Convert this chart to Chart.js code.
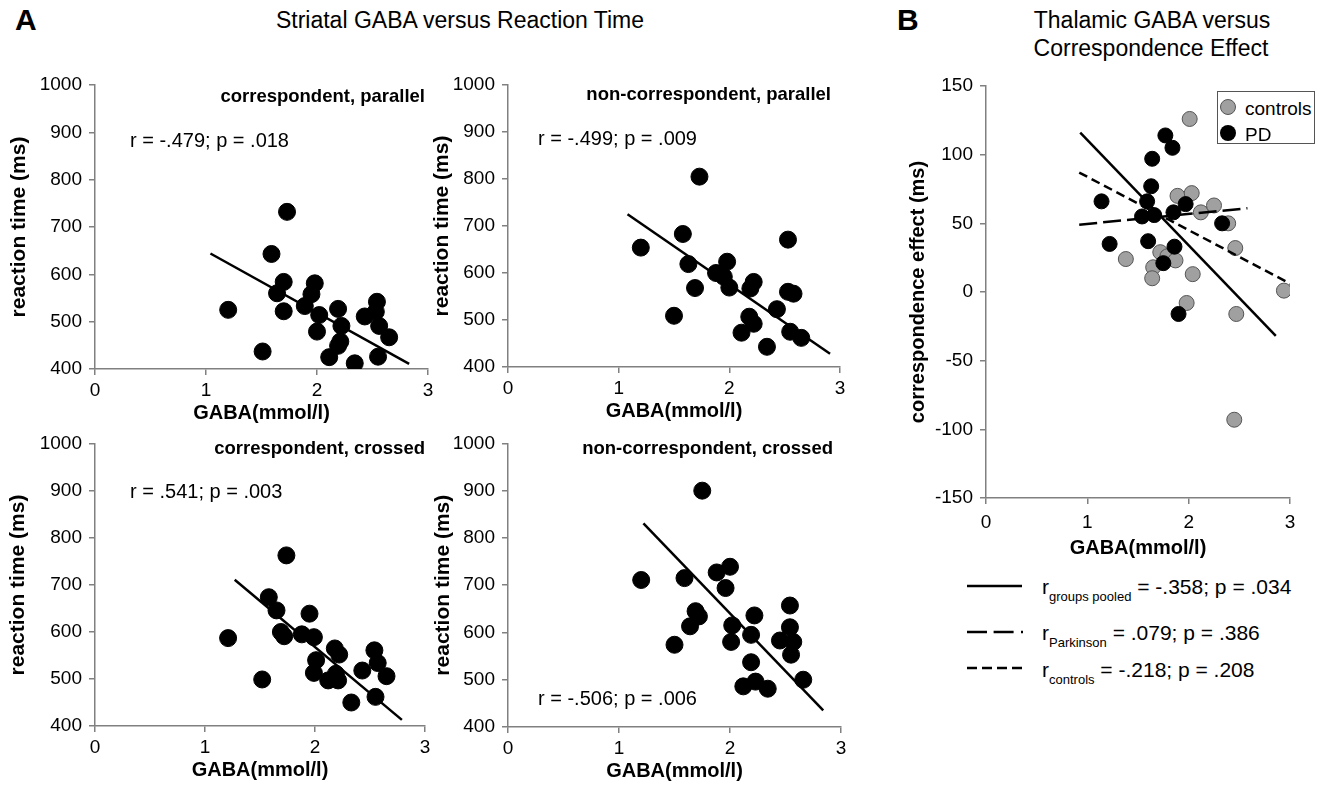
<!DOCTYPE html>
<html>
<head>
<meta charset="utf-8">
<script src="https://cdn.jsdelivr.net/npm/chart.js@4.4.1/dist/chart.umd.min.js"></script>
<style>
  body { margin: 0; background: #fff; font-family: 'Liberation Sans', Arial, sans-serif; color: #000; }
  #fig { position: relative; width: 1331px; height: 787px; overflow: hidden; }
  canvas { position: absolute; }
  .t { position: absolute; white-space: nowrap; line-height: 1; transform: translateY(-50%); }
  .c { transform: translate(-50%, -50%); }
  .sub { font-weight: bold; font-size: 18.5px; }
  .rv { font-size: 20px; }
</style>
</head>
<body>
<div id="fig">
  <div class="t" style="left:15px;top:20px;font-size:30px;font-weight:bold">A</div>
  <div class="t c" style="left:460px;top:20px;font-size:23px">Striatal GABA versus Reaction Time</div>
  <div class="t" style="left:897px;top:20px;font-size:30px;font-weight:bold">B</div>
  <div class="t c" style="left:1152px;top:20px;font-size:23px">Thalamic GABA versus</div>
  <div class="t c" style="left:1151px;top:48px;font-size:23px">Correspondence Effect</div>

  <canvas id="p1"></canvas>
  <canvas id="p2"></canvas>
  <canvas id="p3"></canvas>
  <canvas id="p4"></canvas>
  <canvas id="p5"></canvas>

  <div class="t sub" style="right:906px;top:96px">correspondent, parallel</div>
  <div class="t rv" style="left:130px;top:140px">r = -.479; p = .018</div>
  <div class="t sub" style="right:500px;top:94px">non-correspondent, parallel</div>
  <div class="t rv" style="left:538px;top:138px">r = -.499; p = .009</div>
  <div class="t sub" style="right:906px;top:448px">correspondent, crossed</div>
  <div class="t rv" style="left:130px;top:491px">r = .541; p = .003</div>
  <div class="t sub" style="right:498px;top:448px">non-correspondent, crossed</div>
  <div class="t rv" style="left:538px;top:698px">r = -.506; p = .006</div>

  <!-- legend inside panel B -->
  <div style="position:absolute;left:1217px;top:91px;width:98px;height:53px;border:1px solid #555;box-sizing:border-box;background:#fff"></div>
  <div style="position:absolute;left:1220px;top:99px;width:16px;height:16px;border-radius:50%;background:#a0a0a0;border:1px solid #555;box-sizing:border-box"></div>
  <div class="t" style="left:1245px;top:108px;font-size:19px">controls</div>
  <div style="position:absolute;left:1220px;top:125px;width:16px;height:16px;border-radius:50%;background:#000"></div>
  <div class="t" style="left:1245px;top:134px;font-size:19px">PD</div>

  <!-- fit line legend below panel B -->
  <svg style="position:absolute;left:960px;top:570px" width="80" height="110">
    <line x1="7" y1="16" x2="62" y2="16" stroke="#000" stroke-width="2.3"/>
    <line x1="7" y1="62" x2="63" y2="62" stroke="#000" stroke-width="2.3" stroke-dasharray="20 6.6 20 7.4 2 100"/>
    <line x1="7" y1="98" x2="62" y2="98" stroke="#000" stroke-width="2.3" stroke-dasharray="10 5"/>
  </svg>
  <div class="t" style="left:1042px;top:586px;font-size:21px">r<span style="font-size:13px;position:relative;top:7px">groups pooled</span> = -.358; p = .034</div>
  <div class="t" style="left:1042px;top:632px;font-size:21px">r<span style="font-size:13px;position:relative;top:7px">Parkinson</span> = .079; p = .386</div>
  <div class="t" style="left:1042px;top:669px;font-size:21px">r<span style="font-size:13px;position:relative;top:7px">controls</span> = -.218; p = .208</div>
</div>

<script>
// --- panel A data: GABA (mmol/l) vs reaction time (ms) ---
const gabaCorrPar = [1.20, 1.51, 1.59, 1.73, 1.70, 1.64, 1.70, 1.89, 1.95, 1.98, 2.02, 2.00, 2.11, 2.19, 2.22, 2.21, 2.19, 2.34, 2.43, 2.54, 2.53, 2.56, 2.55, 2.65];
const rtCorrPar   = [525, 437, 643, 732, 584, 560, 522, 533, 558, 581, 514, 479, 425, 527, 491, 458, 449, 412, 511, 542, 521, 491, 426, 467];
const fitCorrParX = [1.04, 2.83];
const fitCorrParY = [644, 411];

const gabaNonPar = [1.20, 1.50, 1.58, 1.73, 1.63, 1.69, 1.88, 1.95, 1.98, 2.00, 2.19, 2.22, 2.18, 2.22, 2.11, 2.34, 2.43, 2.53, 2.53, 2.58, 2.55, 2.65];
const rtNonPar   = [654, 509, 683, 805, 619, 568, 600, 592, 624, 569, 567, 581, 507, 492, 473, 443, 523, 671, 560, 556, 475, 462];
const fitNonParX = [1.08, 2.91];
const fitNonParY = [725, 428];

const gabaCorrCross = [1.21, 1.52, 1.58, 1.65, 1.69, 1.72, 1.74, 1.88, 1.95, 1.99, 2.01, 1.99, 2.12, 2.18, 2.22, 2.19, 2.21, 2.33, 2.43, 2.54, 2.57, 2.55, 2.65];
const rtCorrCross   = [587, 499, 674, 646, 600, 591, 763, 595, 639, 589, 540, 513, 497, 565, 552, 511, 497, 450, 518, 561, 534, 462, 506];
const fitCorrCrossX = [1.27, 2.79];
const fitCorrCrossY = [711, 413];

const gabaNonCross = [1.20, 1.50, 1.59, 1.64, 1.69, 1.72, 1.75, 1.88, 2.00, 1.96, 2.02, 2.01, 2.19, 2.22, 2.19, 2.12, 2.23, 2.34, 2.45, 2.54, 2.54, 2.57, 2.55, 2.66];
const rtNonCross   = [711, 574, 715, 613, 645, 634, 900, 727, 739, 694, 615, 580, 595, 636, 537, 486, 496, 481, 583, 657, 611, 580, 553, 500];
const fitNonCrossX = [1.22, 2.84];
const fitNonCrossY = [831, 435];

// --- panel B data: thalamic GABA vs correspondence effect (ms) ---
const gabaControls = [2.01, 1.89, 2.03, 2.12, 2.25, 2.39, 2.46, 1.38, 1.72, 1.79, 1.87, 1.65, 1.64, 2.04, 1.98, 2.47, 2.94, 2.45];
const ceControls   = [126, 70, 72, 58, 63, 50, 32, 24, 29, 26, 23, 18, 10, 13, -8, -16, 1, -93];
const gabaPD = [1.77, 1.84, 1.64, 1.63, 1.14, 1.59, 1.97, 1.85, 1.54, 1.66, 2.33, 1.22, 1.60, 1.86, 1.75, 1.90];
const cePD   = [114, 105, 97, 77, 66, 66, 64, 58, 55, 56, 50, 35, 37, 33, 21, -16];
const fitPooledX = [0.93, 2.86];
const fitPooledY = [116, -32];
const fitParkX = [0.92, 2.58];
const fitParkY = [49, 61];
const fitCtrlX = [0.92, 3.03];
const fitCtrlY = [87, 5];

const rtTicks = { min: 400, max: 1000, step: 100 };
const gabaTicks = { min: 0, max: 3, step: 1 };
const ceTicks = { min: -150, max: 150, step: 50 };

const FONT = "'Liberation Sans', Arial, sans-serif";
const pts = (xs, ys) => xs.map((x, i) => ({ x: x, y: ys[i] }));

function axis(which, t, title, size, tickPad, titlePad, titleSize) {
    return {
        type: 'linear', min: t.min, max: t.max,
        ticks: { stepSize: t.step, color: '#000', padding: tickPad, font: { size: 19, family: FONT }, callback: v => String(v) },
        grid: { drawOnChartArea: false, drawTicks: true, tickLength: 6, color: '#808080', lineWidth: 1.5 },
        border: { color: '#808080', width: 1.5 },
        title: {
            display: true, text: title, color: '#000',
            font: { size: titleSize, weight: 'bold', family: FONT },
            padding: which === 'x' ? { top: 0, bottom: titlePad } : { top: titlePad, bottom: 0 }
        },
        afterFit: s => { if (which === 'x') s.height = size; else s.width = size; }
    };
}

function fitLine(xs, ys, dash, order) {
    return { type: 'line', data: pts(xs, ys), borderColor: '#000', borderWidth: 2.5, borderDash: dash,
             pointRadius: 0, fill: false, order: order };
}

// box = canvas left/top/width, area = wanted chart area (page px)
function place(cv, box, area, xh) {
    cv.width = box.w;
    cv.height = Math.round(area.b - box.t + xh);
    cv.style.left = box.l + 'px';
    cv.style.top = box.t + 'px';
    return { left: 0, top: area.t - box.t, right: box.l + box.w - area.r, bottom: 0 };
}

function rtPanel(id, box, area, xs, ys, fx, fy, yTitleX) {
    const cv = document.getElementById(id);
    const pad = place(cv, box, area, 56);
    new Chart(cv, {
        type: 'scatter',
        data: { datasets: [
            fitLine(fx, fy, [], 0),
            { data: pts(xs, ys), backgroundColor: '#000', borderColor: '#000', pointRadius: 8.5, order: 1 }
        ] },
        options: {
            responsive: false, animation: false, events: [],
            layout: { padding: pad },
            plugins: { legend: { display: false }, tooltip: { enabled: false } },
            scales: {
                x: axis('x', gabaTicks, 'GABA(mmol/l)', 56, 4, 0, 20),
                y: axis('y', rtTicks, 'reaction time (ms)', area.l - box.l, 7, Math.max(0, yTitleX - box.l - 12.6), 21)
            }
        }
    });
}

rtPanel('p1', { l: 0, t: 65, w: 445 }, { l: 95, t: 85, r: 428, b: 369 }, gabaCorrPar, rtCorrPar, fitCorrParX, fitCorrParY, 19);
rtPanel('p2', { l: 430, t: 65, w: 430 }, { l: 508, t: 85, r: 840, b: 367 }, gabaNonPar, rtNonPar, fitNonParX, fitNonParY, 442);
rtPanel('p3', { l: 0, t: 425, w: 445 }, { l: 95, t: 444, r: 425, b: 726 }, gabaCorrCross, rtCorrCross, fitCorrCrossX, fitCorrCrossY, 18);
rtPanel('p4', { l: 430, t: 425, w: 430 }, { l: 508, t: 443, r: 841, b: 727 }, gabaNonCross, rtNonCross, fitNonCrossX, fitNonCrossY, 443);

// --- panel B ---
(function () {
    const cv = document.getElementById('p5');
    const box = { l: 900, t: 65, w: 431 };
    const area = { l: 986, t: 86, r: 1290, b: 498 };
    const pad = place(cv, box, area, 62);
    new Chart(cv, {
        type: 'scatter',
        data: { datasets: [
            fitLine(fitPooledX, fitPooledY, [], 0),
            fitLine(fitParkX, fitParkY, [18, 6], 0),
            fitLine(fitCtrlX, fitCtrlY, [9, 5], 0),
            { label: 'PD', data: pts(gabaPD, cePD), backgroundColor: '#000', borderColor: '#000', pointRadius: 7.5, order: 1 },
            { label: 'controls', data: pts(gabaControls, ceControls), backgroundColor: '#a0a0a0', borderColor: '#555',
              borderWidth: 1, pointRadius: 7.5, order: 2 }
        ] },
        options: {
            responsive: false, animation: false, events: [],
            layout: { padding: pad },
            plugins: { legend: { display: false }, tooltip: { enabled: false } },
            scales: {
                x: axis('x', gabaTicks, 'GABA(mmol/l)', 62, 7, 0, 20),
                y: axis('y', ceTicks, 'correspondence effect (ms)', area.l - box.l, 7, 6, 20)
            }
        }
    });
})();
</script>
</body>
</html>
